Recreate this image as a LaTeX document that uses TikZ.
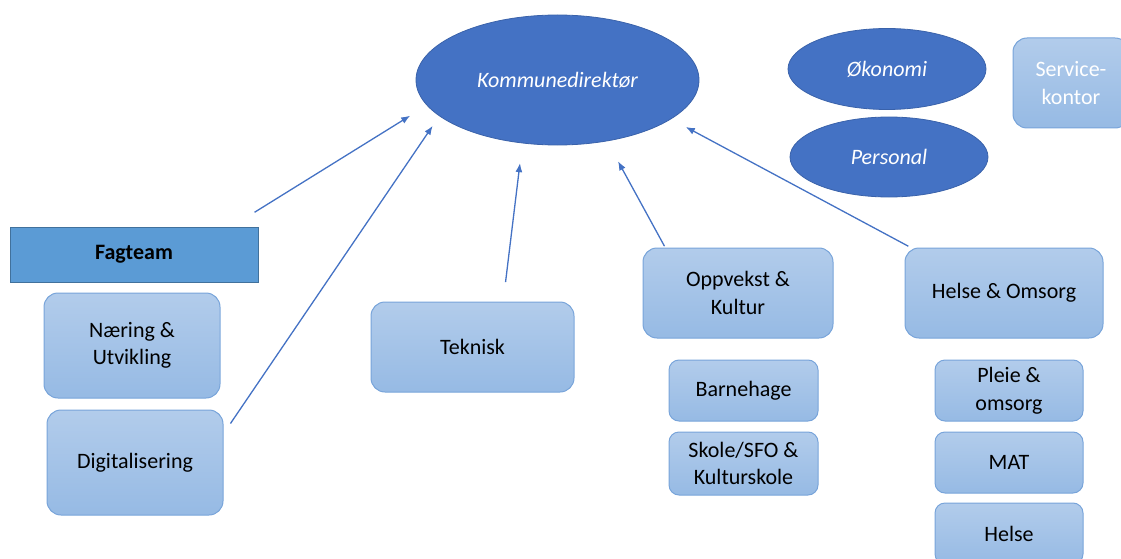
\documentclass[tikz,border=0pt]{standalone}
\usepackage{fontspec}
\setmainfont{Carlito}
\usetikzlibrary{shapes.geometric, % For the ellipses
                arrows.meta,
                positioning,
               }
\definecolor{leadblue}{RGB}{68,114,196}
\definecolor{leadline}{RGB}{58,98,170}
\definecolor{teamblue}{RGB}{91,155,213}
\definecolor{teamline}{RGB}{65,113,156}
\definecolor{boxtop}{RGB}{178,204,235}
\definecolor{boxbot}{RGB}{150,186,228}
\definecolor{boxline}{RGB}{120,164,218}
\newcommand{\orgfont}{\fontsize{22}{27.5}\selectfont}
\tikzstyle{leader} = [ellipse, draw=leadline, line width=0.8pt, fill=leadblue, text=white, font=\orgfont\itshape]
\tikzstyle{team} = [rectangle, draw=teamline, line width=1pt, fill=teamblue, font=\orgfont\bfseries]
\tikzstyle{unit} = [rectangle, rounded corners=14pt, draw=boxline, line width=1pt, top color=boxtop, bottom color=boxbot, align=center, font=\orgfont]
\tikzstyle{subunit} = [unit, rounded corners=10pt, minimum width=148pt, minimum height=61pt]
\tikzstyle{link} = [-{Latex[length=9pt,width=7pt]}, draw=leadblue, line width=1.3pt]

\begin{document}
\begin{tikzpicture}[x=1pt, y=-1pt]
  \useasboundingbox (0,0) rectangle (1121,559);

  \node (kd) [leader, minimum width=283pt, minimum height=130pt] at (557.5,80) {Kommunedirektør};
  \node (okonomi) [leader, minimum width=198pt, minimum height=81pt] at (887,69) {Økonomi};
  \node (personal) [leader, minimum width=198pt, minimum height=80pt] at (889,157) {Personal};
  \node (service) [unit, text=white, minimum width=116pt, minimum height=90pt] at (1071,83) {Service-\\kontor};

  \node (fagteam) [team, minimum width=248pt, minimum height=55pt] at (134,254.5) {Fagteam};
  \node (naering) [unit, minimum width=176pt, minimum height=105pt] at (132,345.5) {Næring \&\\Utvikling};
  \node (digital) [unit, minimum width=176pt, minimum height=105pt] at (135,462.5) {Digitalisering};

  \node (teknisk) [unit, minimum width=203pt, minimum height=90pt] at (472.5,347) {Teknisk};

  \node (oppvekst) [unit, minimum width=190pt, minimum height=90pt] at (738,293) {Oppvekst \&\\Kultur};
  \node (barnehage) [subunit, minimum width=149pt] at (743.5,390.5) {Barnehage};
  \node (skole) [subunit, minimum width=149pt, minimum height=63pt] at (743.5,463.5) {Skole/SFO \&\\Kulturskole};

  \node (helseomsorg) [unit, minimum width=198pt, minimum height=90pt] at (1004,293) {Helse \& Omsorg};
  \node (pleie) [subunit] at (1009,390.5) {Pleie \&\\omsorg};
  \node (mat) [subunit] at (1009,462.5) {MAT};
  \node (helse) [subunit] at (1009,533.5) {Helse};

  % lines up to the leader
  \draw [link, shorten <=27pt, shorten >=19.5pt] (fagteam.16) -- (kd.191.6);
  \draw [link, shorten <=12.4pt, shorten >=11.7pt] (digital.18.4) -- (kd.197.2);
  \draw [link, shorten <=19.5pt, shorten >=19.9pt] (teknisk.56.4) -- (kd.241.7);
  \draw [link, shorten <=1.5pt, shorten >=22.8pt] (oppvekst.148.9) -- (kd.309.4);
  \draw [link, shorten <=2.7pt, shorten >=16.6pt] (helseomsorg.154.8) -- (kd.341.6);
\end{tikzpicture}
\end{document}
